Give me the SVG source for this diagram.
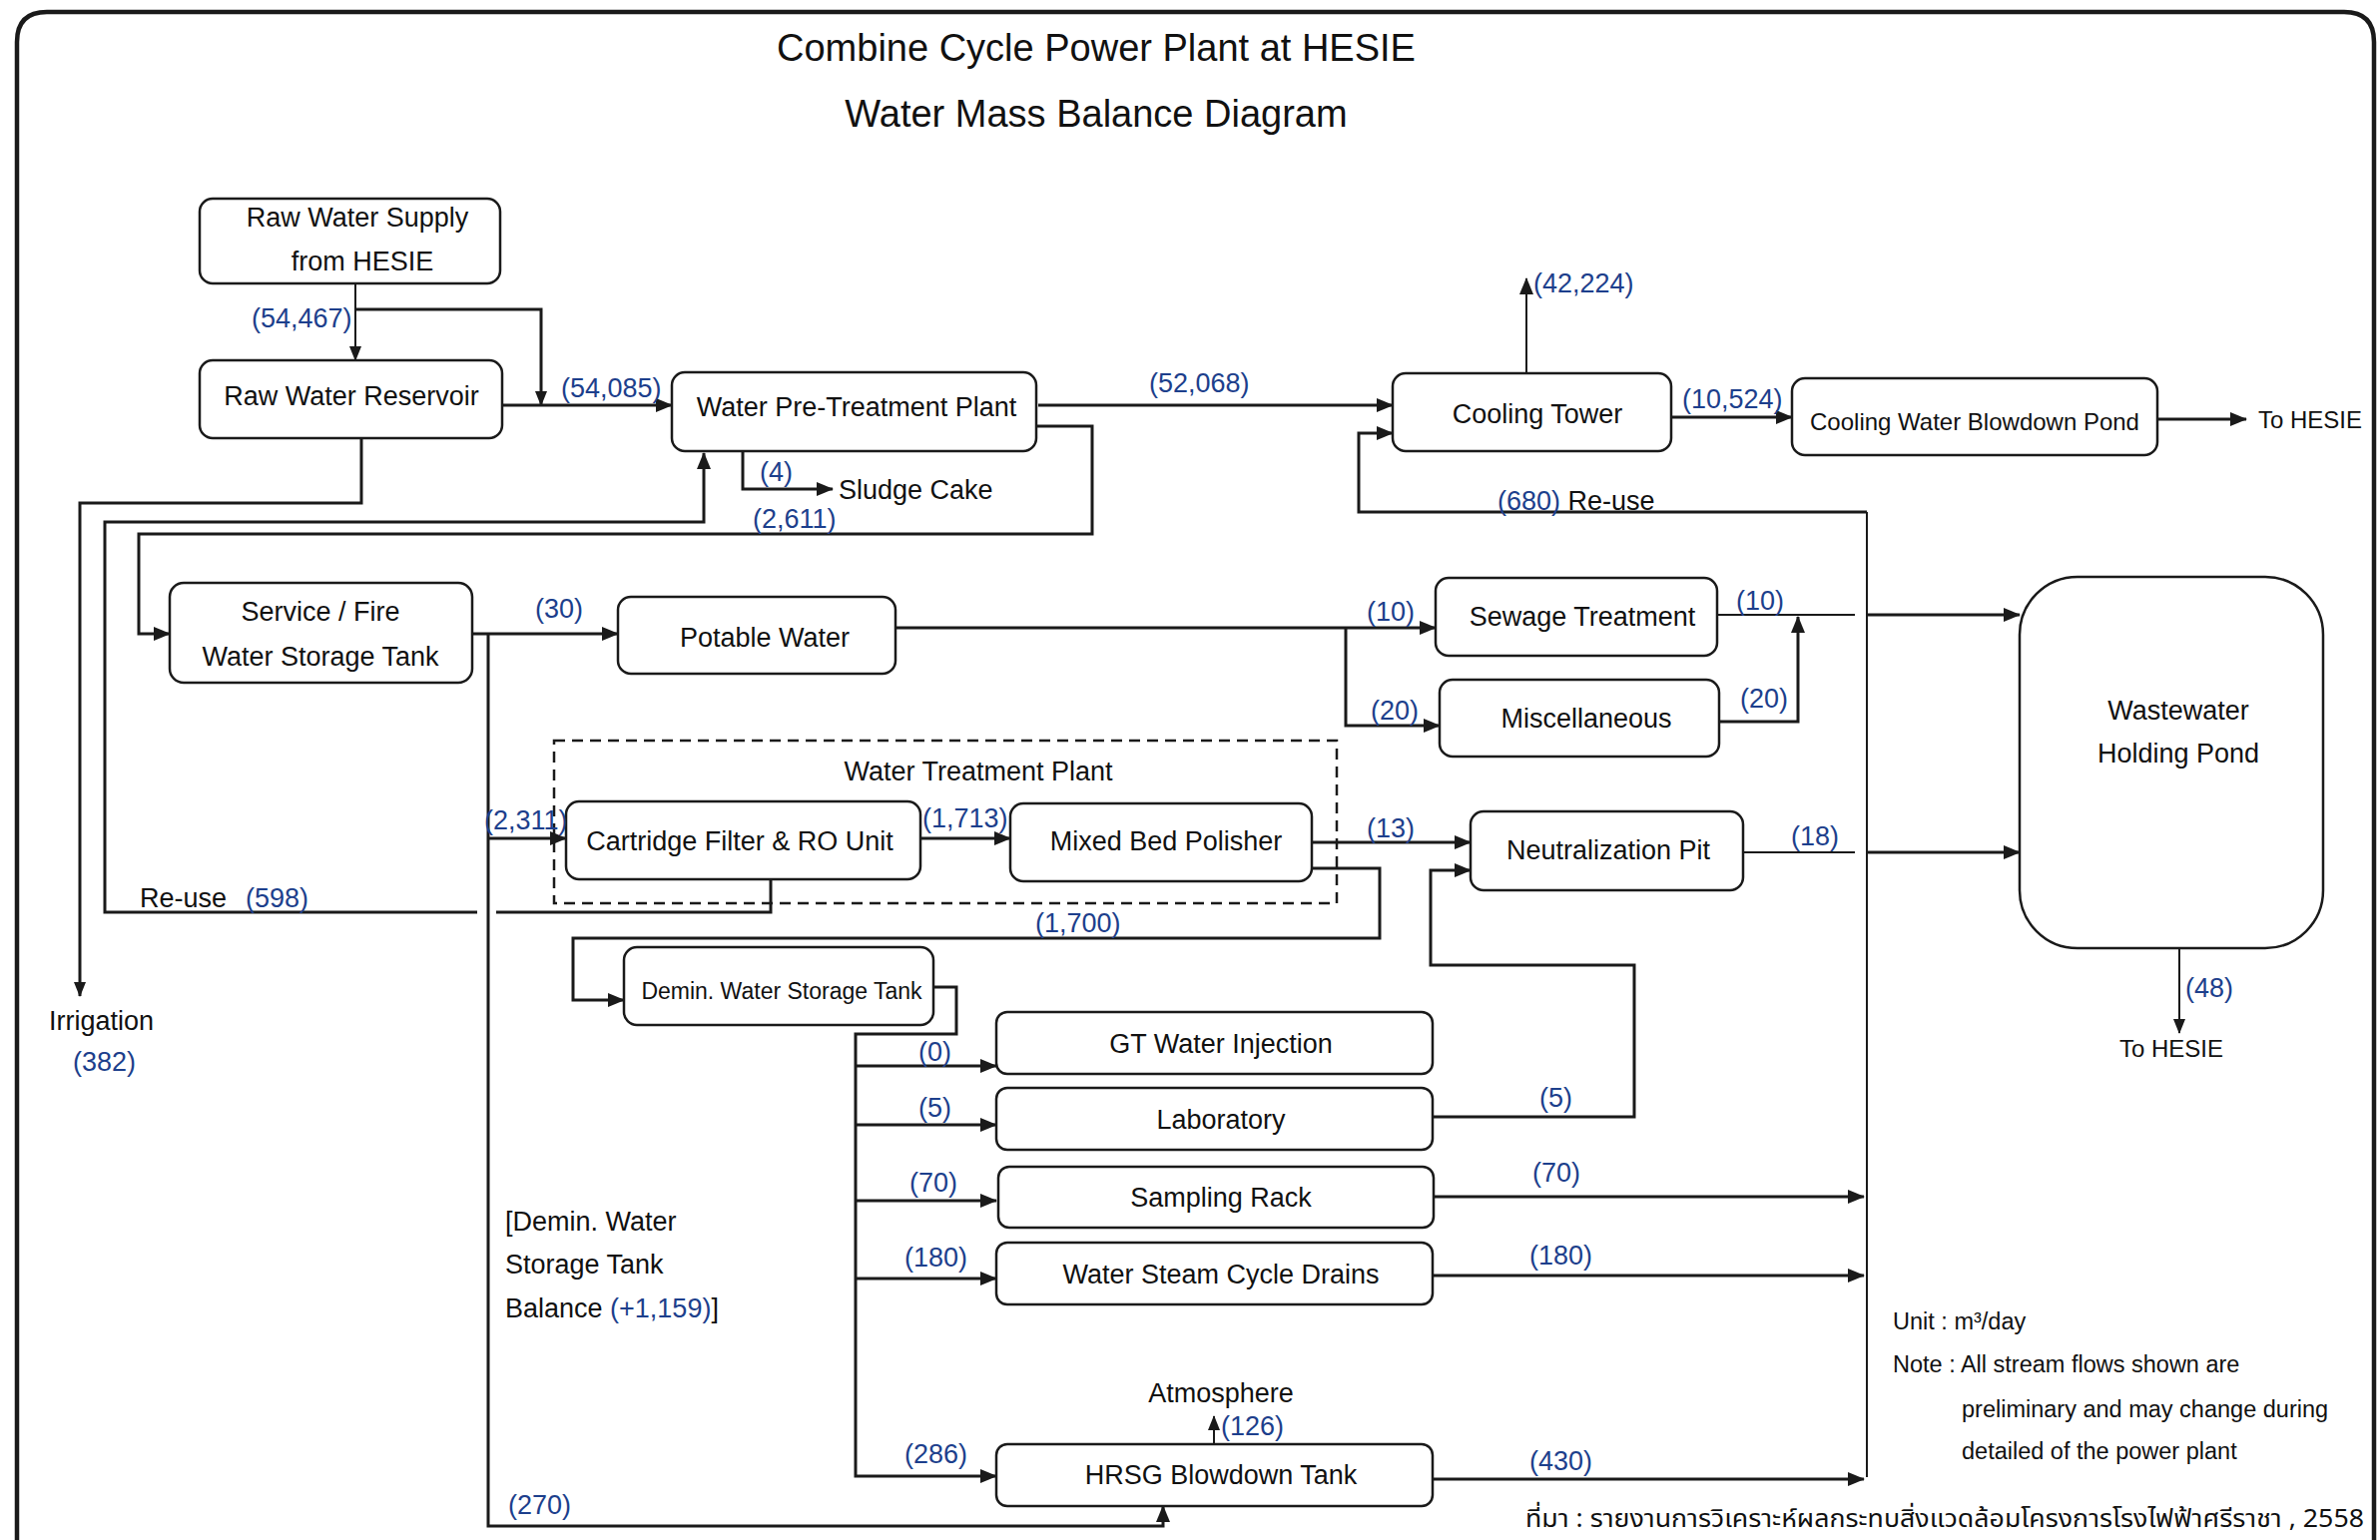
<svg xmlns="http://www.w3.org/2000/svg" width="2384" height="1543" viewBox="0 0 2384 1543">
<style>
.bg{fill:#ffffff}
.frame{fill:none;stroke:#1a1a1a;stroke-width:4.5}
.box{fill:#ffffff;stroke:#1a1a1a;stroke-width:2.5}
.dash{fill:none;stroke:#1a1a1a;stroke-width:2.5;stroke-dasharray:11 7}
.ln{fill:none;stroke:#1a1a1a;stroke-width:3}
.thin{fill:none;stroke:#1a1a1a;stroke-width:2}
text{font-family:"Liberation Sans",Arial,sans-serif;fill:#111111}
.t{font-size:27px}
.h{font-size:24px}
.tc{font-size:27px;text-anchor:middle}
.ts{font-size:24px;text-anchor:middle}
.ti{font-size:38px;text-anchor:middle}
.n{font-size:23.5px}
.b{fill:#1d3f8c}
</style>
<defs>
<marker id="ah" markerUnits="userSpaceOnUse" markerWidth="18" markerHeight="14" refX="16" refY="7" orient="auto">
<path d="M0,0 L17,7 L0,14 z" fill="#1a1a1a"/>
</marker>
<marker id="ahs" markerUnits="userSpaceOnUse" markerWidth="16" markerHeight="12" refX="14" refY="6" orient="auto">
<path d="M0,0 L15,6 L0,12 z" fill="#1a1a1a"/>
</marker>
</defs>
<rect class="bg" x="0" y="0" width="2384" height="1543"/>
<path class="frame" d="M17,1560 V42 Q17,12 47,12 H2348 Q2378,12 2378,42 V1560"/>

<g id="title">
<text class="ti" x="1098" y="61">Combine Cycle Power Plant at HESIE</text>
<text class="ti" x="1098" y="127">Water Mass Balance Diagram</text>
</g>

<g id="connectors">
<path class="thin" marker-end="url(#ahs)" d="M356,284 V361"/>
<path class="ln" marker-end="url(#ahs)" d="M356,310 H542 V406"/>
<path class="ln" marker-end="url(#ah)" d="M503,406 H673"/>
<path class="ln" marker-end="url(#ah)" d="M1040,406 H1395"/>
<path class="ln" marker-end="url(#ah)" d="M1038,427 H1094 V535 H139 V635 H170"/>
<path class="ln" marker-end="url(#ah)" d="M744,452 V490 H834"/>
<path class="ln" marker-end="url(#ahs)" d="M362,439 V504 H80 V998"/>
<path class="ln" d="M772,881 V914 H497"/>
<path class="ln" marker-end="url(#ah)" d="M478,914 H105 V523 H705 V454"/>
<path class="ln" marker-end="url(#ah)" d="M473,635 H619"/>
<path class="ln" marker-end="url(#ah)" d="M489,635 V1529 H1165 V1509"/>
<path class="ln" marker-end="url(#ah)" d="M489,840 H567"/>
<path class="ln" marker-end="url(#ah)" d="M922,840 H1012"/>
<path class="ln" marker-end="url(#ah)" d="M1314,844 H1473"/>
<path class="ln" marker-end="url(#ah)" d="M1314,870 H1382 V940 H574 V1002 H625"/>
<path class="ln" marker-end="url(#ah)" d="M935,989 H958 V1036 H857 V1479 H998"/>
<path class="ln" marker-end="url(#ah)" d="M857,1068 H998"/>
<path class="ln" marker-end="url(#ah)" d="M857,1127 H998"/>
<path class="ln" marker-end="url(#ah)" d="M857,1203 H998"/>
<path class="ln" marker-end="url(#ah)" d="M857,1281 H998"/>
<path class="ln" marker-end="url(#ah)" d="M897,629 H1438"/>
<path class="ln" marker-end="url(#ah)" d="M1348,629 V727 H1442"/>
<path class="thin" d="M1720,616 H1858"/>
<path class="ln" marker-end="url(#ah)" d="M1870,616 H2023"/>
<path class="ln" marker-end="url(#ah)" d="M1722,723 H1801 V618"/>
<path class="thin" d="M1746,854 H1858"/>
<path class="ln" marker-end="url(#ah)" d="M1870,854 H2023"/>
<path class="ln" marker-end="url(#ah)" d="M1435,1119 H1637 V967 H1433 V872 H1473"/>
<path class="ln" marker-end="url(#ah)" d="M1436,1199 H1867"/>
<path class="ln" marker-end="url(#ah)" d="M1435,1278 H1867"/>
<path class="ln" marker-end="url(#ah)" d="M1435,1482 H1867"/>
<path class="thin" d="M1870,1480 V513"/>
<path class="ln" marker-end="url(#ah)" d="M1870,513 H1361 V434 H1395"/>
<path class="thin" marker-end="url(#ah)" d="M1529,374 V279"/>
<path class="ln" marker-end="url(#ah)" d="M1674,418 H1795"/>
<path class="ln" marker-end="url(#ah)" d="M2161,420 H2250"/>
<path class="thin" marker-end="url(#ahs)" d="M2183,950 V1035"/>
<path class="thin" marker-end="url(#ahs)" d="M1216,1447 V1419"/>
</g>

<g id="raw-water-supply">
<rect class="box" x="200" y="199" width="301" height="85" rx="13"/>
<text class="tc" x="358" y="227">Raw Water Supply</text>
<text class="tc" x="363" y="271">from HESIE</text>
</g>
<g id="raw-water-reservoir">
<rect class="box" x="200" y="361" width="303" height="78" rx="13"/>
<text class="tc" x="352" y="406">Raw Water Reservoir</text>
</g>
<g id="water-pre-treatment-plant">
<rect class="box" x="673" y="373" width="365" height="79" rx="13"/>
<text class="tc" x="858" y="417">Water Pre-Treatment Plant</text>
</g>
<g id="cooling-tower">
<rect class="box" x="1395" y="374" width="279" height="78" rx="13"/>
<text class="tc" x="1540" y="424">Cooling Tower</text>
</g>
<g id="cooling-water-blowdown-pond">
<rect class="box" x="1795" y="379" width="366" height="77" rx="13"/>
<text class="ts" x="1978" y="431">Cooling Water Blowdown Pond</text>
</g>
<g id="service-fire-tank">
<rect class="box" x="170" y="584" width="303" height="100" rx="14"/>
<text class="tc" x="321" y="622">Service / Fire</text>
<text class="tc" x="321" y="667">Water Storage Tank</text>
</g>
<g id="potable-water">
<rect class="box" x="619" y="598" width="278" height="77" rx="13"/>
<text class="tc" x="766" y="648">Potable Water</text>
</g>
<g id="sewage-treatment">
<rect class="box" x="1438" y="579" width="282" height="78" rx="13"/>
<text class="tc" x="1585" y="627">Sewage Treatment</text>
</g>
<g id="miscellaneous">
<rect class="box" x="1442" y="681" width="280" height="77" rx="13"/>
<text class="tc" x="1589" y="729">Miscellaneous</text>
</g>
<g id="wastewater-holding-pond">
<rect class="box" x="2023" y="578" width="304" height="372" rx="58"/>
<text class="tc" x="2182" y="721">Wastewater</text>
<text class="tc" x="2182" y="764">Holding Pond</text>
</g>
<g id="water-treatment-plant">
<rect class="dash" x="555" y="742" width="784" height="163"/>
<text class="tc" x="980" y="782">Water Treatment Plant</text>
</g>
<g id="cartridge-filter-ro">
<rect class="box" x="567" y="803" width="355" height="78" rx="13"/>
<text class="tc" x="741" y="852">Cartridge Filter &amp; RO Unit</text>
</g>
<g id="mixed-bed-polisher">
<rect class="box" x="1012" y="805" width="302" height="78" rx="13"/>
<text class="tc" x="1168" y="852">Mixed Bed Polisher</text>
</g>
<g id="neutralization-pit">
<rect class="box" x="1473" y="813" width="273" height="79" rx="13"/>
<text class="tc" x="1611" y="861">Neutralization Pit</text>
</g>
<g id="demin-water-storage-tank">
<rect class="box" x="625" y="949" width="310" height="78" rx="13"/>
<text x="783" y="1001" style="font-size:23px;text-anchor:middle">Demin. Water Storage Tank</text>
</g>
<g id="gt-water-injection">
<rect class="box" x="998" y="1014" width="437" height="62" rx="11"/>
<text class="tc" x="1223" y="1055">GT Water Injection</text>
</g>
<g id="laboratory">
<rect class="box" x="998" y="1090" width="437" height="62" rx="11"/>
<text class="tc" x="1223" y="1131">Laboratory</text>
</g>
<g id="sampling-rack">
<rect class="box" x="1000" y="1169" width="436" height="61" rx="11"/>
<text class="tc" x="1223" y="1209">Sampling Rack</text>
</g>
<g id="water-steam-cycle-drains">
<rect class="box" x="998" y="1245" width="437" height="62" rx="11"/>
<text class="tc" x="1223" y="1286">Water Steam Cycle Drains</text>
</g>
<g id="hrsg-blowdown-tank">
<rect class="box" x="998" y="1447" width="437" height="62" rx="11"/>
<text class="tc" x="1223" y="1487">HRSG Blowdown Tank</text>
</g>

<g id="labels">
<text class="t b" x="252" y="328">(54,467)</text>
<text class="t b" x="562" y="398">(54,085)</text>
<text class="t b" x="1151" y="393">(52,068)</text>
<text class="t b" x="1536" y="293">(42,224)</text>
<text class="t b" x="1685" y="409">(10,524)</text>
<text class="h" x="2262" y="429">To HESIE</text>
<text class="t b" x="761" y="482">(4)</text>
<text class="t" x="840" y="500">Sludge Cake</text>
<text class="t b" x="754" y="529">(2,611)</text>
<text class="t" x="1500" y="511"><tspan class="b">(680)</tspan> Re-use</text>
<text class="t b" x="536" y="619">(30)</text>
<text class="t b" x="1369" y="622">(10)</text>
<text class="t b" x="1739" y="611">(10)</text>
<text class="t b" x="1373" y="721">(20)</text>
<text class="t b" x="1743" y="709">(20)</text>
<text class="t b" x="485" y="831">(2,311)</text>
<text class="t b" x="924" y="829">(1,713)</text>
<text class="t b" x="1369" y="839">(13)</text>
<text class="t b" x="1794" y="847">(18)</text>
<text class="t" x="140" y="909">Re-use</text>
<text class="t b" x="246" y="909">(598)</text>
<text class="t b" x="1037" y="934">(1,700)</text>
<text class="t" x="49" y="1032">Irrigation</text>
<text class="t b" x="73" y="1073">(382)</text>
<text class="t b" x="2189" y="999">(48)</text>
<text class="h" x="2123" y="1059">To HESIE</text>
<text class="t b" x="920" y="1063">(0)</text>
<text class="t b" x="920" y="1119">(5)</text>
<text class="t b" x="1542" y="1109">(5)</text>
<text class="t b" x="911" y="1194">(70)</text>
<text class="t b" x="1535" y="1184">(70)</text>
<text class="t b" x="906" y="1269">(180)</text>
<text class="t b" x="1532" y="1267">(180)</text>
<text class="t" x="506" y="1233">[Demin. Water</text>
<text class="t" x="506" y="1276">Storage Tank</text>
<text class="t" x="506" y="1320">Balance <tspan class="b">(+1,159)</tspan>]</text>
<text class="tc" x="1223" y="1405">Atmosphere</text>
<text class="t b" x="1223" y="1438">(126)</text>
<text class="t b" x="906" y="1466">(286)</text>
<text class="t b" x="1532" y="1473">(430)</text>
<text class="t b" x="509" y="1517">(270)</text>
<text class="n" x="1896" y="1332">Unit : m³/day</text>
<text class="n" x="1896" y="1375">Note : All stream flows shown are</text>
<text class="n" x="1965" y="1420">preliminary and may change during</text>
<text class="n" x="1965" y="1462">detailed of the power plant</text>
<text x="1528" y="1530" textLength="840" lengthAdjust="spacingAndGlyphs" style="font-size:25px;font-family:'Noto Sans Thai','Noto Sans','DejaVu Sans',sans-serif">ที่มา : รายงานการวิเคราะห์ผลกระทบสิ่งแวดล้อมโครงการโรงไฟฟ้าศรีราชา , 2558</text>
</g>
</svg>
